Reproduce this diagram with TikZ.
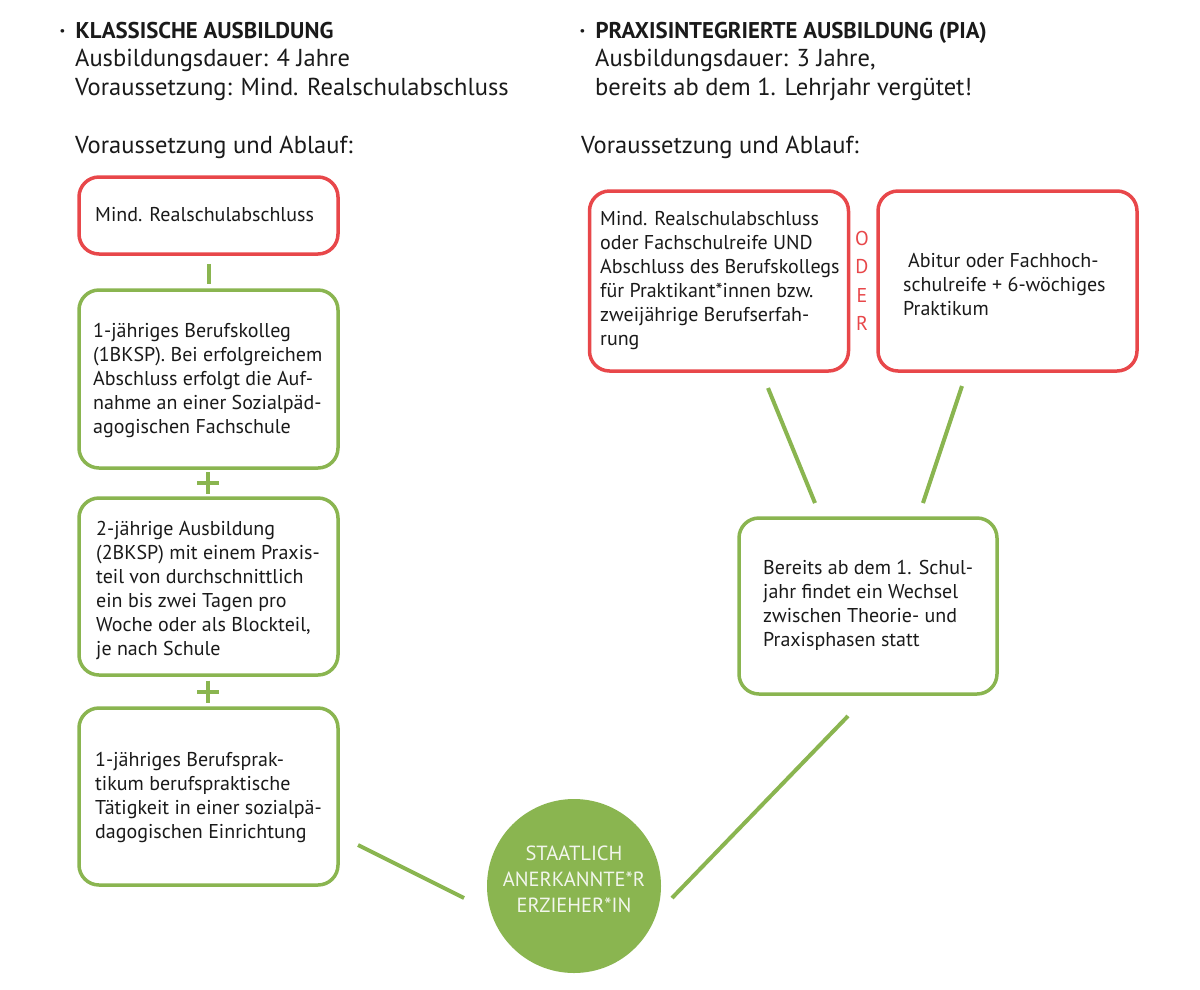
\documentclass[tikz,border=0pt]{standalone}
\usepackage{fontspec}
\setmainfont{PT Sans}
\definecolor{pgreen}{HTML}{8AB550}
\definecolor{pred}{HTML}{E8474A}
\definecolor{ink}{HTML}{1A1A1A}
\definecolor{circtext}{HTML}{F2F6EC}
\begin{document}
\begin{tikzpicture}[x=1pt,y=-1pt,
  box/.style={draw, rectangle, rounded corners=20pt, line width=3.5pt, inner sep=0pt},
  redbox/.style={box, draw=pred},
  greenbox/.style={box, draw=pgreen},
  boxtext/.style={anchor=west, align=left, inner sep=0pt, text=ink, font=\fontsize{20}{24}\selectfont},
  head/.style={anchor=base west, inner sep=0pt, text=ink, font=\bfseries\fontsize{22.8}{28}\selectfont},
  body/.style={anchor=base west, inner sep=0pt, text=ink, font=\fontsize{24.5}{28}\selectfont},
  conn/.style={draw=pgreen, line width=4pt},
  odertext/.style={align=center, inner sep=0pt, text=pred, font=\fontsize{20}{28.5}\selectfont},
  goal/.style={circle, fill=pgreen, minimum size=174pt, inner sep=0pt},
  goaltext/.style={align=center, inner sep=0pt, text=circtext, font=\fontsize{20.5}{26}\selectfont}
]
\useasboundingbox[fill=white] (0,0) rectangle (1200,989);

% headings left
\node[head] (hleft) at (59.5,38.5) {\makebox[16pt][l]{·}KLASSISCHE AUSBILDUNG};
\node[body] (l1) at (75,66.5) {Ausbildungsdauer: 4 Jahre};
\node[body] (l2) at (75,95) {Voraussetzung: Mind. Realschulabschluss};
\node[body] (l3) at (75,153) {Voraussetzung und Ablauf:};

% headings right
\node[head] (hright) at (579.5,38.5) {\makebox[16pt][l]{·}PRAXISINTEGRIERTE AUSBILDUNG (PIA)};
\node[body] (r1) at (595,66.5) {Ausbildungsdauer: 3 Jahre,};
\node[body] (r2) at (595,95) {bereits ab dem 1. Lehrjahr vergütet!};
\node[body] (r3) at (581,153) {Voraussetzung und Ablauf:};

% left column boxes
\node[redbox, minimum width=259pt, minimum height=77pt] (b1) at (208.5,215.5) {};
\node[boxtext] (t1) at (95,215) {Mind. Realschulabschluss};

\node[greenbox, minimum width=259pt, minimum height=178pt] (b2) at (208.5,379) {};
\node[boxtext] (t2) at (93,380) {1-jähriges Berufskolleg\\(1BKSP). Bei erfolgreichem\\Abschluss erfolgt die Auf-\\nahme an einer Sozialpäd-\\agogischen Fachschule};

\node[greenbox, minimum width=259pt, minimum height=177pt] (b3) at (208.5,586.5) {};
\node[boxtext] (t3) at (96,590) {2-jährige Ausbildung\\(2BKSP) mit einem Praxis-\\teil von durchschnittlich\\ein bis zwei Tagen pro\\Woche oder als Blockteil,\\je nach Schule};

\node[greenbox, minimum width=259pt, minimum height=177pt] (b4) at (208.5,796.5) {};
\node[boxtext] (t4) at (95,797.5) {1-jähriges Berufsprak-\\tikum berufspraktische\\Tätigkeit in einer sozialpä-\\dagogischen Einrichtung};

% left connectors
\draw[conn, shorten <=8pt, shorten >=4pt] (b1.south) -- (b2.north);
\coordinate (p1) at (208,483);
\coordinate (p2) at (208,691.5);
\draw[conn] ([yshift=11pt]p1) -- ([yshift=-11pt]p1) ([xshift=-11pt]p1) -- ([xshift=11pt]p1);
\draw[conn] ([yshift=11pt]p2) -- ([yshift=-11pt]p2) ([xshift=-11pt]p2) -- ([xshift=11pt]p2);

% right column boxes
\node[redbox, minimum width=259pt, minimum height=180pt] (ba) at (719,281) {};
\node[boxtext] (ta) at (600,280.5) {Mind. Realschulabschluss\\oder Fachschulreife UND\\Abschluss des Berufskollegs\\für Praktikant*innen bzw.\\zweijährige Berufserfah-\\rung};
\node[odertext] (oder) at (862,281) {O\\D\\E\\R};
\node[redbox, minimum width=259pt, minimum height=180pt] (bb) at (1007.5,281) {};
\node[boxtext] (tb) at (903,285) {\hspace{5pt}Abitur oder Fachhoch-\\schulreife + 6-wöchiges\\Praktikum};

\node[greenbox, minimum width=258pt, minimum height=176pt] (bc) at (868,606) {};
\node[boxtext] (tc) at (763,605) {Bereits ab dem 1. Schul-\\jahr findet ein Wechsel\\zwischen Theorie- und\\Praxisphasen statt};

% goal circle
\node[goal] (goal) at (574,886) {};
\node[goaltext] (gt) at (574,879) {STAATLICH\\ANERKANNTE*R\\ERZIEHER*IN};

% connectors right and to goal
\coordinate (a1) at (768,388);
\coordinate (a2) at (815,503);
\coordinate (c1) at (962,386);
\coordinate (c2) at (923,503);
\coordinate (d1) at (848,716);
\coordinate (d2) at (672,898);
\coordinate (e1) at (358,845);
\coordinate (e2) at (464,898);
\draw[conn] (a1) -- (a2);
\draw[conn] (c1) -- (c2);
\draw[conn] (d1) -- (d2);
\draw[conn] (e1) -- (e2);
\end{tikzpicture}
\end{document}
